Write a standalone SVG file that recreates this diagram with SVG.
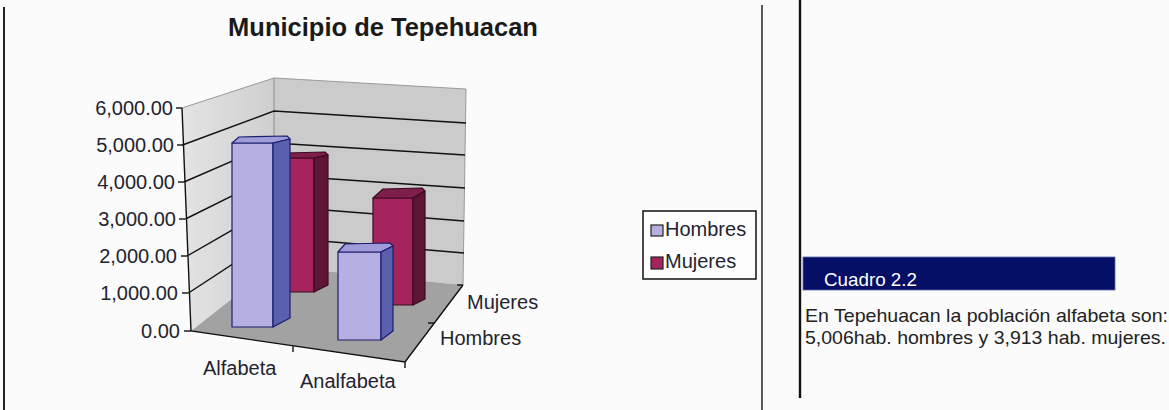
<svg xmlns="http://www.w3.org/2000/svg" width="1169" height="410" viewBox="0 0 1169 410">
<style>
text{font-family:"Liberation Sans",Arial,sans-serif;fill:#23232f}
.ax{font-size:20px}
.yl{font-size:20px;text-anchor:end}
.gl{stroke:#111;stroke-width:1.4;fill:none}
.tk{stroke:#111;stroke-width:1.4}
.hf{fill:#b6b0e2;stroke:#1c1c6e;stroke-width:1.2;stroke-linejoin:round}
.hs{fill:#5b60ae;stroke:#1c1c6e;stroke-width:1.2;stroke-linejoin:round}
.ht{fill:#a09bd9;stroke:#1c1c6e;stroke-width:1.2;stroke-linejoin:round}
.mf{fill:#a6245e;stroke:#3a0a20;stroke-width:1.2;stroke-linejoin:round}
.ms{fill:#5e1638;stroke:#3a0a20;stroke-width:1.2;stroke-linejoin:round}
.mt{fill:#7d1f4a;stroke:#3a0a20;stroke-width:1.2;stroke-linejoin:round}
</style>
<defs>
<linearGradient id="lw" x1="0" y1="0" x2="1" y2="0">
<stop offset="0" stop-color="#e4e4e4"/>
<stop offset="1" stop-color="#cfcfcf"/>
</linearGradient>
</defs>
<rect width="1169" height="410" fill="#fbfbfb"/>

<g id="dividers">
<line x1="4" y1="7" x2="4" y2="410" stroke="#222" stroke-width="2"/>
<line x1="762" y1="5" x2="762" y2="410" stroke="#333" stroke-width="1.6"/>
<line x1="800" y1="0" x2="800" y2="398" stroke="#111" stroke-width="2.4"/>
</g>

<g id="title">
<text x="383" y="36" text-anchor="middle" font-size="25.5" font-weight="bold" style="fill:#1a1a1a">Municipio de Tepehuacan</text>
</g>

<g id="walls">
<polygon points="182,108 274,78 274,266 191,331" fill="url(#lw)"/>
<polygon points="274,78 466,89 463,285 274,266" fill="#cbcbcb"/>
<polyline points="182,108 274,78 466,89 463,285" fill="none" stroke="#9a9a9a" stroke-width="1"/>
<line x1="274" y1="78" x2="274" y2="266" stroke="#8a8a8a" stroke-width="1"/>
<g class="gl">
<polyline points="182.5,145 274,111 466,123"/>
<polyline points="184,182 274,143 465,155"/>
<polyline points="185.5,219 274,175 465,188"/>
<polyline points="187,256 274,206 464,221"/>
<polyline points="188.5,293 274,237 464,253"/>
</g>
</g>

<g id="floor">
<polygon points="191,331 274,266 463,285 405,362" fill="#a2a2a2"/>
<polyline class="gl" points="182,108 191,331 405,362 463,285"/>
<line class="tk" x1="293" y1="346" x2="293" y2="352"/>
<line class="tk" x1="405" y1="362" x2="405" y2="368"/>
<line class="tk" x1="434" y1="323" x2="428" y2="323"/>
<line class="tk" x1="463" y1="285" x2="457" y2="285"/>
</g>

<g id="y-axis">
<g class="tk">
<line x1="176" y1="108" x2="182" y2="108"/>
<line x1="177" y1="145" x2="183" y2="145"/>
<line x1="178" y1="182" x2="184" y2="182"/>
<line x1="179" y1="219" x2="185.5" y2="219"/>
<line x1="181" y1="256" x2="187" y2="256"/>
<line x1="182" y1="293" x2="188.5" y2="293"/>
<line x1="184" y1="331" x2="191" y2="331"/>
</g>
<text class="yl" x="173" y="115">6,000.00</text>
<text class="yl" x="174" y="152">5,000.00</text>
<text class="yl" x="175" y="189">4,000.00</text>
<text class="yl" x="176" y="226">3,000.00</text>
<text class="yl" x="177" y="263">2,000.00</text>
<text class="yl" x="178" y="300">1,000.00</text>
<text class="yl" x="180" y="338">0.00</text>
</g>

<g id="bar-mujeres-alfabeta">
<rect class="mf" x="280" y="158" width="34" height="134"/>
<polygon class="mt" points="280,158 286,153 325,152 328,155 314,158"/>
<polygon class="ms" points="314,158 328,155 328,285 314,292"/>
</g>
<g id="bar-hombres-alfabeta">
<rect class="hf" x="232" y="143" width="41" height="184"/>
<polygon class="ht" points="232,143 239,137 287,136 290,139 273,143"/>
<polygon class="hs" points="273,143 290,139 290,318 273,327"/>
</g>
<g id="bar-mujeres-analfabeta">
<rect class="mf" x="373" y="198" width="40" height="107"/>
<polygon class="mt" points="373,198 383,189 422,188 425,191 413,198"/>
<polygon class="ms" points="413,198 425,191 425,299 413,305"/>
</g>
<g id="bar-hombres-analfabeta">
<rect class="hf" x="338" y="252" width="43" height="88"/>
<polygon class="ht" points="338,252 345,244 390,243 393,246 381,252"/>
<polygon class="hs" points="381,252 393,246 393,331 381,340"/>
</g>

<g id="category-labels">
<text class="ax" x="203" y="375">Alfabeta</text>
<text class="ax" x="300" y="388">Analfabeta</text>
<text class="ax" x="467" y="309">Mujeres</text>
<text class="ax" x="440" y="345">Hombres</text>
</g>

<g id="legend">
<rect x="643" y="211" width="113" height="68" fill="#fdfdfd" stroke="#111" stroke-width="1.5"/>
<rect x="651" y="225" width="12" height="11" fill="#b6b0e2" stroke="#222" stroke-width="1.2"/>
<rect x="651" y="257" width="12" height="12" fill="#a6245e" stroke="#222" stroke-width="1.2"/>
<text class="ax" x="665" y="236">Hombres</text>
<text class="ax" x="665" y="268">Mujeres</text>
</g>

<g id="cuadro">
<rect x="803" y="257" width="312" height="33" fill="#050f66" stroke="#5a66aa" stroke-width="0.8"/>
<text x="824" y="285.5" font-size="18.5" textLength="93" lengthAdjust="spacingAndGlyphs" style="fill:#ffffff">Cuadro 2.2</text>
<text x="805" y="321.5" font-size="18.5" textLength="363" lengthAdjust="spacingAndGlyphs" style="fill:#222">En Tepehuacan la población alfabeta son:</text>
<text x="805" y="344" font-size="18.5" textLength="361" lengthAdjust="spacingAndGlyphs" style="fill:#222">5,006hab. hombres y 3,913 hab. mujeres.</text>
</g>
</svg>
